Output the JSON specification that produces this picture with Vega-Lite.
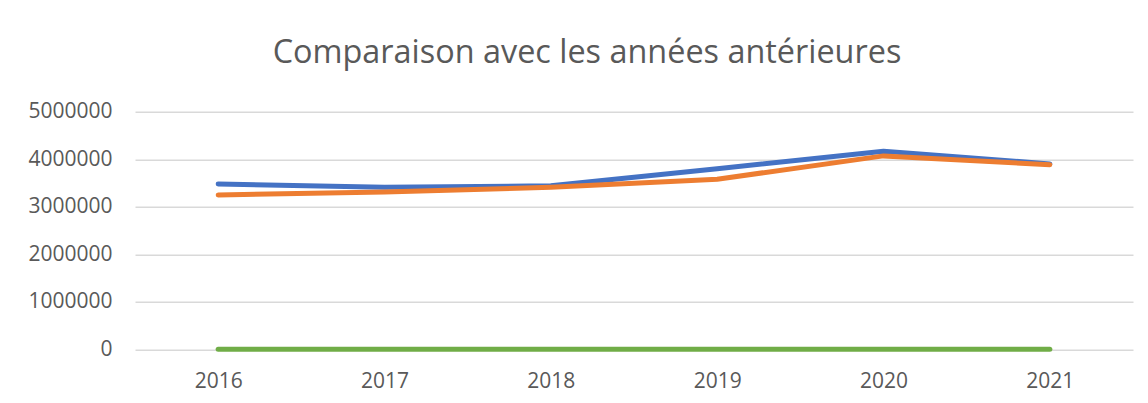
{
  "$schema": "https://vega.github.io/schema/vega-lite/v6.json",
  "width": 998,
  "height": 237.6,
  "autosize": {"type": "none"},
  "padding": {"left": 135, "top": 111.7, "right": 15, "bottom": 53.7},
  "background": "white",
  "config": {"view": {"stroke": null}},
  "title": {
    "text": "Comparaison avec les années antérieures",
    "font": "Open Sans",
    "fontSize": 32.4,
    "fontWeight": "normal",
    "color": "#595959",
    "anchor": "middle",
    "frame": "group",
    "dx": -47,
    "offset": 5.5,
    "baseline": "alphabetic"
  },
  "data": {
    "values": [
      {"annee": "2016", "serie": "Série 1", "valeur": 3478000},
      {"annee": "2017", "serie": "Série 1", "valeur": 3410000},
      {"annee": "2018", "serie": "Série 1", "valeur": 3440000},
      {"annee": "2019", "serie": "Série 1", "valeur": 3800000},
      {"annee": "2020", "serie": "Série 1", "valeur": 4170000},
      {"annee": "2021", "serie": "Série 1", "valeur": 3900000},
      {"annee": "2016", "serie": "Série 2", "valeur": 3247000},
      {"annee": "2017", "serie": "Série 2", "valeur": 3310000},
      {"annee": "2018", "serie": "Série 2", "valeur": 3410000},
      {"annee": "2019", "serie": "Série 2", "valeur": 3580000},
      {"annee": "2020", "serie": "Série 2", "valeur": 4070000},
      {"annee": "2021", "serie": "Série 2", "valeur": 3885000},
      {"annee": "2016", "serie": "Série 3", "valeur": 0},
      {"annee": "2017", "serie": "Série 3", "valeur": 0},
      {"annee": "2018", "serie": "Série 3", "valeur": 0},
      {"annee": "2019", "serie": "Série 3", "valeur": 0},
      {"annee": "2020", "serie": "Série 3", "valeur": 0},
      {"annee": "2021", "serie": "Série 3", "valeur": 0}
    ]
  },
  "mark": {"type": "line", "strokeWidth": 5, "strokeCap": "round", "strokeJoin": "round"},
  "encoding": {
    "x": {
      "field": "annee",
      "type": "ordinal",
      "scale": {"type": "point", "padding": 0.5},
      "axis": {
        "title": null,
        "labelAngle": 0,
        "domain": false,
        "ticks": false,
        "grid": false,
        "labelFont": "Open Sans",
        "labelFontSize": 21,
        "labelColor": "#595959",
        "labelPadding": 21
      }
    },
    "y": {
      "field": "valeur",
      "type": "quantitative",
      "scale": {"domain": [0, 5000000], "nice": false},
      "axis": {
        "title": null,
        "values": [0, 1000000, 2000000, 3000000, 4000000, 5000000],
        "format": "d",
        "domain": false,
        "ticks": false,
        "grid": true,
        "gridColor": "#d9d9d9",
        "gridWidth": 1.5,
        "labelFont": "Open Sans",
        "labelFontSize": 21,
        "labelColor": "#595959",
        "labelPadding": 23
      }
    },
    "color": {
      "field": "serie",
      "type": "nominal",
      "scale": {"domain": ["Série 1", "Série 2", "Série 3"], "range": ["#4472C4", "#ED7D31", "#70AD47"]},
      "legend": null
    }
  }
}
